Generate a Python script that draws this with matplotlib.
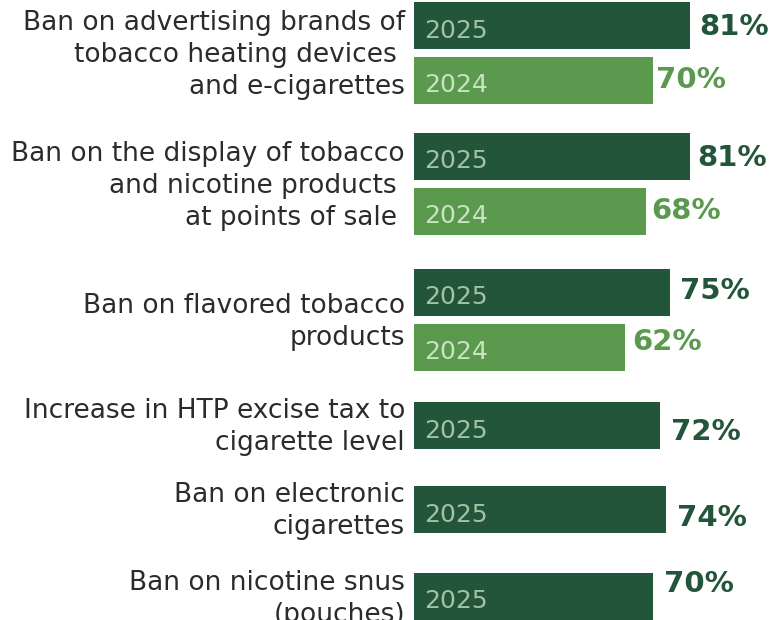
import matplotlib.pyplot as plt

# Survey: support for tobacco control measures
categories = [
    "Ban on advertising brands of\ntobacco heating devices \nand e-cigarettes",
    "Ban on the display of tobacco\nand nicotine products \nat points of sale ",
    "Ban on flavored tobacco\nproducts",
    "Increase in HTP excise tax to\ncigarette level",
    "Ban on electronic\ncigarettes",
    "Ban on nicotine snus\n(pouches)",
]
support_2025 = [81, 81, 75, 72, 74, 70]
support_2024 = [70, 68, 62, None, None, None]

DARK = '#23553a'
LIGHT = '#5b9a4e'
TEXT = '#2b2b2b'

# vertical layout (pixel rows, y grows downward)
group_tops = [2, 133, 269, 402, 486, 573]
bar_h = 47
pair_step = 54.5

# value-label nudges in pixels (dx right, dy down) per group
nudge_2025 = [(9, 1.5), (7, 1.5), (10, -1.5), (11, 6.5), (11, 8.5), (11, -13)]
nudge_2024 = [(3, 0), (5, 0), (7, -4.5), None, None, None]

fig = plt.figure(figsize=(7.81, 6.2), dpi=100)
x0 = 414
ax = fig.add_axes([x0 / 781, 0, 1 - x0 / 781, 1])
px_per_pct = 3.41
ax.set_xlim(0, (781 - x0) / px_per_pct)
ax.set_ylim(620, 0)
ax.axis('off')

for i, cat in enumerate(categories):
    y25 = group_tops[i] + bar_h / 2
    rows = [(y25, support_2025[i], DARK, '2025', '#a3c2a3', nudge_2025[i])]
    if support_2024[i] is not None:
        rows.append((y25 + pair_step, support_2024[i], LIGHT, '2024', '#c9e2c2', nudge_2024[i]))

    for yc, val, col, yr, yr_col, (dx, dy) in rows:
        ax.barh(yc, val, height=bar_h, color=col, edgecolor='none')
        ax.annotate(yr, xy=(0, yc), xytext=(10, -5), textcoords='offset pixels',
                    ha='left', va='center', fontsize=18, color=yr_col)
        ax.annotate(f"{val}%", xy=(val, yc), xytext=(dx, -dy), textcoords='offset pixels',
                    ha='left', va='center', color=col, annotation_clip=False,
                    fontsize=21, fontweight='heavy')

    centre = (rows[0][0] + rows[-1][0]) / 2 + 2
    ax.text(-9 / px_per_pct, centre, cat, ha='right', va='center', fontsize=19,
            color=TEXT, linespacing=1.3, clip_on=False)

fig.savefig('out.png', dpi=100)
